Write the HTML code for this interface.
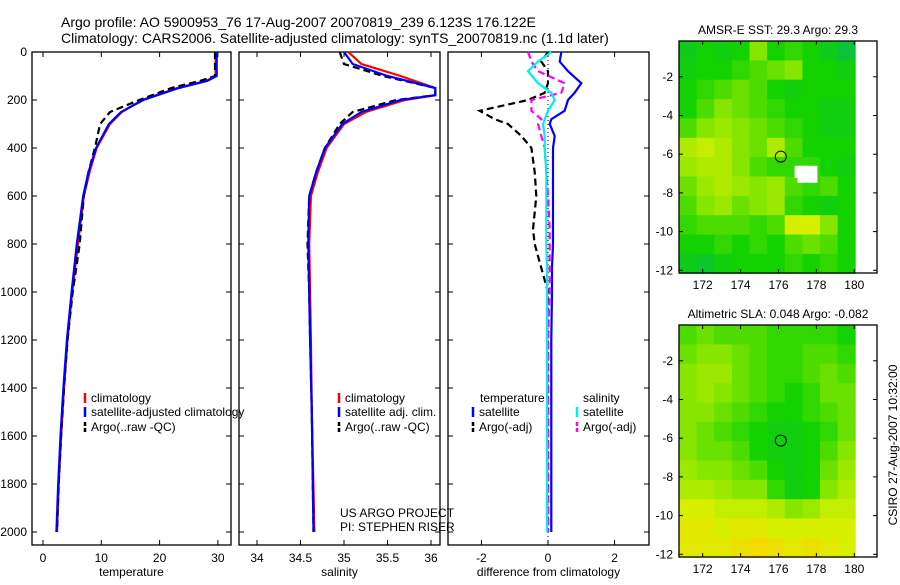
<!DOCTYPE html>
<html><head><meta charset="utf-8"><style>
body{margin:0;background:#fff;}
svg text{font-family:"Liberation Sans",sans-serif;fill:#000;}
</style></head><body>
<svg id="c" width="900" height="580" xmlns="http://www.w3.org/2000/svg">
<text x="61" y="27" font-size="14">Argo profile: AO 5900953_76 17-Aug-2007 20070819_239 6.123S 176.122E</text>
<text x="61" y="43" font-size="14">Climatology: CARS2006. Satellite-adjusted climatology: synTS_20070819.nc (1.1d later)</text>
<text x="778" y="34" font-size="12" text-anchor="middle">AMSR-E SST: 29.3 Argo: 29.3</text>
<text x="778" y="318" font-size="12" text-anchor="middle">Altimetric SLA: 0.048 Argo: -0.082</text>
<text transform="translate(897,445) rotate(-90)" font-size="12" text-anchor="middle">CSIRO 27-Aug-2007 10:32:00</text>
<g id="g"></g>
</svg>
<script>
// ---- data ----
const depthT = [0,100,120,150,200,250,300,400,500,600,800,1000,1200,1400,1600,1800,2000];
const tempClim = [29.6,29.6,28,23,17,13.5,11.5,9.2,8,7,6,5,4.2,3.6,3.1,2.7,2.4];
const tempSat = [29.8,29.8,28.2,23.3,17.2,13.4,11.3,9.1,7.8,6.9,5.8,4.9,4.1,3.5,3.0,2.6,2.3];
const depthA = [0,100,120,150,200,250,300,400,500,600,800,1000,1200,1400,1600,1800,2000];
const tempArgo = [29.5,29.5,27,22,16.5,11.5,9.8,8.9,7.8,7.0,6.3,5.1,4.2,3.6,3.1,2.7,2.4];
const depthS = [0,50,100,150,180,200,250,300,400,500,600,800,1000,1200,1500,2000];
const salClim = [35.05,35.2,35.65,36.05,36.05,35.7,35.25,35.0,34.8,34.7,34.62,34.6,34.61,34.62,34.63,34.66];
const salSat = [35.0,35.1,35.5,36.05,36.05,35.65,35.2,34.98,34.78,34.68,34.6,34.59,34.6,34.61,34.63,34.65];
const salArgo = [34.95,35.0,35.45,36.05,36.05,35.6,35.1,34.95,34.78,34.68,34.6,34.58,34.6,34.61,34.63,34.65];
const depthD = [0,40,80,130,170,200,245,280,300,350,400,500,600,740,800,900,1000,1200,1500,2000];
const dTsat = [0.4,0.35,0.6,1.0,0.8,0.6,0.5,0.1,0.05,0.2,0.15,0.15,0.15,0.15,0.15,0.12,0.12,0.1,0.1,0.1];
const dSsat = [0.1,-0.3,-0.6,-0.3,0.1,0.2,0.0,-0.1,-0.15,-0.1,-0.1,-0.05,-0.05,-0.05,-0.05,-0.03,-0.03,-0.03,-0.03,-0.03];
const dTargo = [0,-0.2,0,0,-0.1,-0.6,-2.05,-1.6,-1.2,-0.8,-0.5,-0.4,-0.35,-0.45,-0.4,-0.2,0,0,0,0];
const dSargo = [-0.6,-0.5,-0.3,0.5,0.4,-0.5,-0.5,-0.2,-0.3,-0.2,-0.1,-0.05,0,0.05,0.05,0.05,0.05,0,0,0];
const sstGrid = [
[.3,.4,.35,.4,.6,.4,.45,.4,.3,.2],
[.35,.4,.4,.45,.5,.55,.6,.4,.4,.35],
[.4,.45,.5,.55,.5,.4,.35,.4,.4,.4],
[.4,.5,.6,.55,.5,.45,.4,.4,.35,.35],
[.5,.6,.65,.6,.55,.5,.45,.4,.35,.35],
[.7,.75,.7,.6,.55,.7,.5,.4,.4,.4],
[.65,.7,.7,.6,.5,.45,.45,.45,.4,.35],
[.55,.65,.7,.65,.6,.65,.5,.45,.5,.4],
[.5,.6,.65,.55,.6,.65,.45,.4,.35,.4],
[.45,.5,.5,.5,.45,.5,.8,.8,.6,.4],
[.4,.4,.45,.4,.45,.4,.5,.55,.5,.4],
[.3,.25,.35,.4,.4,.4,.45,.4,.45,.4]];
const slaGrid = [
[.5,.55,.5,.5,.5,.45,.45,.45,.45,.4],
[.55,.6,.6,.55,.5,.45,.45,.5,.5,.45],
[.6,.65,.65,.55,.5,.45,.45,.5,.55,.5],
[.6,.65,.6,.55,.5,.45,.4,.45,.55,.55],
[.6,.6,.55,.5,.45,.4,.4,.45,.5,.55],
[.6,.55,.5,.45,.4,.35,.35,.4,.45,.55],
[.6,.55,.55,.5,.4,.35,.35,.4,.5,.6],
[.65,.6,.6,.55,.5,.4,.35,.4,.55,.65],
[.7,.7,.65,.6,.6,.45,.35,.4,.6,.7],
[.8,.8,.75,.75,.75,.7,.6,.65,.75,.75],
[.85,.85,.8,.85,.85,.8,.8,.8,.8,.8],
[.85,.85,.85,.9,.95,.9,.85,.9,.85,.8]];
const depthTicks = [0,200,400,600,800,1000,1200,1400,1600,1800,2000];
const tempTicks = [0,10,20,30];
const salTicks = [34,34.5,35,35.5,36];
const diffTicks = [-2,0,2];
const lonTicks = [172,174,176,178,180];
const latTicks = [-2,-4,-6,-8,-10,-12];

const NS='http://www.w3.org/2000/svg';
const G=document.getElementById('g');
function mk(t,a,p){const e=document.createElementNS(NS,t);for(const k in a)e.setAttribute(k,a[k]);(p||G).appendChild(e);return e;}
const yD=d=>52+d*0.24;
const xT=v=>43+v*5.83;
const xS=v=>257+(v-34)*87;
const xDf=v=>548+v*33.3;
function line(xs,ds,fx,col,w,dash,name){
  const pts=xs.map((v,i)=>fx(v).toFixed(1)+','+yD(ds[i]).toFixed(1)).join(' ');
  const e=mk('polyline',{points:pts,fill:'none',stroke:col,'stroke-width':w});
  if(dash)e.setAttribute('stroke-dasharray',dash);
  
  
}
function frame(x0,x1,y0,y1,name){
  const r=mk('rect',{x:x0,y:y0,width:x1-x0,height:y1-y0,fill:'none',stroke:'#000','stroke-width':1.3});
  
  
}
function txt(x,y,s,sz,anc,name){
  const t=mk('text',{x:x,y:y,'font-size':sz,'text-anchor':anc||'start'});t.textContent=s;
  
  
}
const panels=[[32,231,tempTicks,xT,'temperature'],[239,440,salTicks,xS,'salinity'],[448,649,diffTicks,xDf,'difference from climatology']];
panels.forEach((p,i)=>{
  frame(p[0],p[1],52,545,'panel-'+(i+1)+'-frame');
  p[2].forEach(v=>{const x=p[3](v);mk('line',{x1:x,x2:x,y1:545,y2:540,stroke:'#000'});mk('line',{x1:x,x2:x,y1:52,y2:57,stroke:'#000'});
    txt(x,562,String(v),12,'middle','x-tick-label');});
  depthTicks.forEach(d=>{const y=yD(d);mk('line',{x1:p[0],x2:p[0]+5,y1:y,y2:y,stroke:'#000'});mk('line',{x1:p[1],x2:p[1]-5,y1:y,y2:y,stroke:'#000'});});
  txt((p[0]+p[1])/2,576,p[4],12,'middle','x-axis-title');
});
depthTicks.forEach(d=>txt(27,yD(d)+4,String(d),12,'end','depth-tick-label'));
line(tempClim,depthT,xT,'#f00',2.2,null,'temp-climatology-line');
line(tempArgo,depthA,xT,'#000',2.2,'7,4','temp-argo-line');
line(tempSat,depthT,xT,'#00f',2.2,null,'temp-satellite-line');
line(salClim,depthS,xS,'#f00',2.2,null,'sal-climatology-line');
line(salArgo,depthS,xS,'#000',2.2,'7,4','sal-argo-line');
line(salSat,depthS,xS,'#00f',2.2,null,'sal-satellite-line');
mk('line',{x1:548,x2:548,y1:52,y2:545,stroke:'#000','stroke-dasharray':'1,3'});
line(dTargo,depthD,xDf,'#000',2.2,'7,4','diff-temp-argo-line');
line(dSargo,depthD,xDf,'#f0f',2.2,'7,4','diff-sal-argo-line');
line(dTsat,depthD,xDf,'#00f',2.2,null,'diff-temp-satellite-line');
line(dSsat,depthD,xDf,'#0ee',2.2,null,'diff-sal-satellite-line');
function leg(x,y,col,dash,s,name){const e=mk('line',{x1:x,x2:x,y1:y-9,y2:y+1,stroke:col,'stroke-width':2.5});if(dash)e.setAttribute('stroke-dasharray','4,2');txt(x+6,y,s,12,'start',name);}
leg(85,402,'#f00',0,'climatology','legend-climatology');
leg(85,416,'#00f',0,'satellite-adjusted climatology','legend-satellite');
leg(85,431,'#000',1,'Argo(..raw -QC)','legend-argo');
leg(339,402,'#f00',0,'climatology','legend-climatology-2');
leg(339,416,'#00f',0,'satellite adj. clim.','legend-satellite-2');
leg(339,431,'#000',1,'Argo(..raw -QC)','legend-argo-2');
txt(480,402,'temperature',12,'start','legend-temp-heading');
txt(583,402,'salinity',12,'start','legend-sal-heading');
leg(473,416,'#00f',0,'satellite','legend-diff-temp-sat');
leg(473,431,'#000',1,'Argo(-adj)','legend-diff-temp-argo');
leg(577,416,'#0ee',0,'satellite','legend-diff-sal-sat');
leg(577,431,'#f0f',1,'Argo(-adj)','legend-diff-sal-argo');
txt(340,517,'US ARGO PROJECT',12,'start','project-label');
txt(340,531,'PI: STEPHEN RISER',12,'start','pi-label');
const stops=[[0,[0,180,110]],[0.4,[20,210,0]],[0.6,[135,230,0]],[0.8,[215,240,0]],[1,[255,210,0]]];
function cmap(v){for(let i=1;i<stops.length;i++){if(v<=stops[i][0]){const a=stops[i-1],b=stops[i],t=(v-a[0])/(b[0]-a[0]);return 'rgb('+a[1].map((c,k)=>Math.round(c+(b[1][k]-c)*t)).join(',')+')';}}return 'rgb(255,210,0)';}
function drawMap(grid,top,name){
  const xL=lon=>679+(lon-170.75)*18.95, yL=lat=>top+(-0.15-lat)*19.35;
  const cols=grid[0].length, rows=grid.length, cw=(xL(180.05)-679)/cols, ch=(yL(-12.15)-top)/rows;
  grid.forEach((row,r)=>row.forEach((v,c)=>{
    const e=mk('rect',{x:(679+c*cw).toFixed(1),y:(top+r*ch).toFixed(1),width:(cw+0.5).toFixed(1),height:(ch+0.5).toFixed(1),fill:cmap(v)});
    
    
  }));
  const bottom=top+232;
  frame(679,877,top,bottom,name+'-frame');
  lonTicks.forEach(l=>{const x=xL(l);mk('line',{x1:x,x2:x,y1:bottom,y2:bottom-4,stroke:'#000'});mk('line',{x1:x,x2:x,y1:top,y2:top+4,stroke:'#000'});txt(x,bottom+16,String(l),12,'middle','lon-tick-label');});
  latTicks.forEach(l=>{const y=yL(l);mk('line',{x1:679,x2:683,y1:y,y2:y,stroke:'#000'});mk('line',{x1:877,x2:873,y1:y,y2:y,stroke:'#000'});txt(673,y+4,String(l),12,'end','lat-tick-label');});
  const c=mk('circle',{cx:xL(176.122),cy:yL(-6.123),r:5.5,fill:'none',stroke:'#000'});
  
  
  return [xL,yL];
}
const m1=drawMap(sstGrid,41,'sst-map');
mk('rect',{x:m1[0](176.85),y:m1[1](-6.6),width:15,height:12,fill:'#fff'});
mk('rect',{x:m1[0](177.0),y:m1[1](-6.6),width:20,height:17,fill:'#fff'});
drawMap(slaGrid,325,'sla-map');
</script>
</body></html>
